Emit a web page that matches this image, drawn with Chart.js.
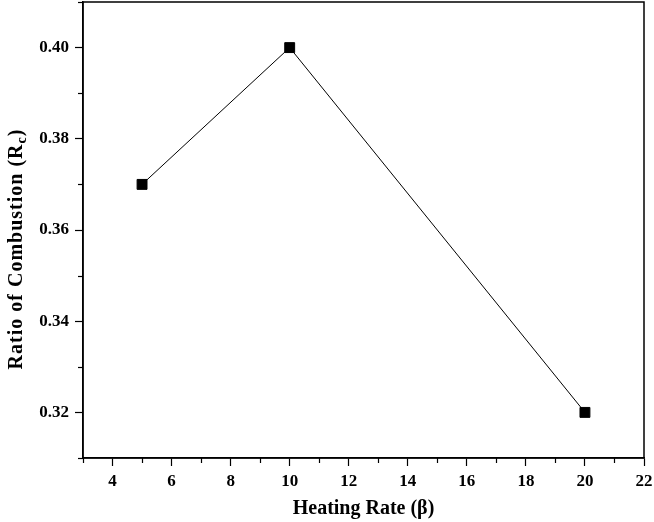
<!DOCTYPE html>
<html lang="en">
<head>
<meta charset="UTF-8">
<title>Ratio of Combustion</title>
<script src="https://cdn.jsdelivr.net/npm/chart.js"></script>
<style>
  html, body { margin: 0; padding: 0; background: #fff; }
  #wrap { width: 654px; height: 522px; overflow: hidden; position: relative; }
  #chart { position: absolute; left: 0; top: -6px; }
</style>
</head>
<body>
<div id="wrap"><canvas id="chart" width="654" height="528"></canvas></div>
<script>
  // data
  const heatingRates = [5, 10, 20];
  const combustionRatio = [0.37, 0.40, 0.32];
  const xTitle = 'Heating Rate (\u03B2)';
  const yTitleMain = 'Ratio of Combustion (R';
  const yTitleSub = 'c';
  const FONT = '"Liberation Serif", "DejaVu Serif", serif';

  // frame + minor ticks + y title with subscript
  const framePlugin = {
    id: 'frame',
    afterDraw(chart) {
      const ctx = chart.ctx;
      const a = chart.chartArea;
      ctx.save();
      ctx.strokeStyle = '#000';
      ctx.lineWidth = 1.5;
      ctx.strokeRect(a.left, a.top, a.right - a.left, a.bottom - a.top);

      // minor ticks (short ones)
      ctx.lineWidth = 1.2;
      const xs = chart.scales.x;
      xs.ticks.forEach(t => {
        if (t.value % 2 !== 0) {
          const px = Math.round(xs.getPixelForValue(t.value)) + 0.5;
          ctx.beginPath();
          ctx.moveTo(px, a.bottom);
          ctx.lineTo(px, a.bottom + 5);
          ctx.stroke();
        }
      });
      const ys = chart.scales.y;
      ys.ticks.forEach(t => {
        const k = Math.round(t.value * 100);
        if (k % 2 !== 0) {
          const py = Math.round(ys.getPixelForValue(t.value)) + 0.5;
          ctx.beginPath();
          ctx.moveTo(a.left, py);
          ctx.lineTo(a.left - 5, py);
          ctx.stroke();
        }
      });

      // y axis title, rotated, with subscript c (canvas is shifted up 6px)
      ctx.fillStyle = '#000';
      ctx.translate(17, 255);
      ctx.rotate(-Math.PI / 2);
      ctx.textBaseline = 'middle';
      ctx.letterSpacing = '1px';
      const big = 'bold 20px ' + FONT;
      const small = 'bold 14px ' + FONT;
      ctx.font = big;
      const w1 = ctx.measureText(yTitleMain).width;
      const w3 = ctx.measureText(')').width;
      ctx.font = small;
      const w2 = ctx.measureText(yTitleSub).width;
      let x0 = -(w1 + w2 + w3) / 2;
      ctx.textAlign = 'left';
      ctx.font = big;
      ctx.fillText(yTitleMain, x0, 0);
      ctx.font = small;
      ctx.fillText(yTitleSub, x0 + w1, 5);
      ctx.font = big;
      ctx.fillText(')', x0 + w1 + w2, 0);
      ctx.restore();
    }
  };

  const ctx = document.getElementById('chart').getContext('2d');
  new Chart(ctx, {
    type: 'scatter',
    data: {
      datasets: [{
        data: heatingRates.map((x, i) => ({ x: x, y: combustionRatio[i] })),
        showLine: true,
        borderColor: '#000',
        borderWidth: 1,
        backgroundColor: '#000',
        pointStyle: 'rect',
        pointRadius: 7,
        pointHoverRadius: 7,
        tension: 0
      }]
    },
    options: {
      responsive: false,
      animation: false,
      layout: { padding: { top: 2, right: 10, left: 0, bottom: 0 } },
      plugins: {
        legend: { display: false },
        tooltip: { enabled: false }
      },
      scales: {
        x: {
          type: 'linear',
          min: 3,
          max: 22,
          afterFit(scale) {
            scale.height = 64;
            scale.paddingLeft = 0;
            scale.paddingRight = 0;
          },
          border: { display: true, color: '#000', width: 1.5 },
          grid: {
            drawOnChartArea: false,
            drawTicks: true,
            tickLength: 8,
            tickWidth: 1.2,
            tickColor: c => (c.tick && c.tick.value % 2 === 0) ? '#000' : 'rgba(0,0,0,0)'
          },
          ticks: {
            stepSize: 1,
            autoSkip: false,
            maxRotation: 0,
            padding: 5,
            color: '#000',
            font: { family: FONT, size: 17, weight: 'bold' },
            callback: v => (v % 2 === 0 ? v : '')
          },
          title: {
            display: true,
            text: xTitle,
            color: '#000',
            font: { family: FONT, size: 20, weight: 'bold' },
            padding: { top: 8, bottom: 1 }
          }
        },
        y: {
          type: 'linear',
          min: 0.31,
          max: 0.41,
          afterFit(scale) {
            scale.width = 83;
            scale.paddingTop = 0;
            scale.paddingBottom = 0;
          },
          border: { display: true, color: '#000', width: 1.5 },
          grid: {
            drawOnChartArea: false,
            drawTicks: true,
            tickLength: 8,
            tickWidth: 1.2,
            tickColor: c => (c.tick && Math.round(c.tick.value * 100) % 2 === 0) ? '#000' : 'rgba(0,0,0,0)'
          },
          ticks: {
            stepSize: 0.01,
            autoSkip: false,
            padding: 6,
            color: '#000',
            font: { family: FONT, size: 17, weight: 'bold' },
            callback: v => (Math.round(v * 100) % 2 === 0 ? v.toFixed(2) : '')
          }
        }
      }
    },
    plugins: [framePlugin]
  });
</script>
</body>
</html>
